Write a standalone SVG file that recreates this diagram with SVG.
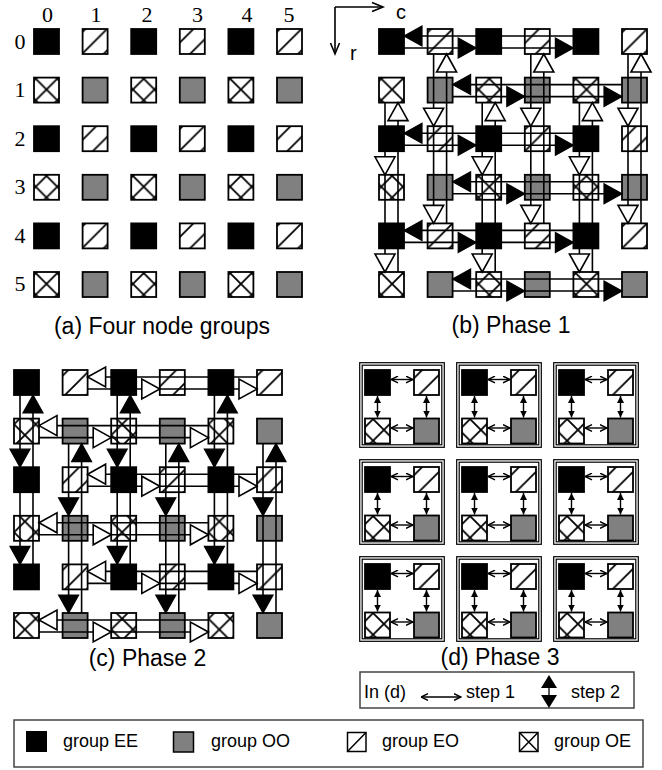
<svg xmlns="http://www.w3.org/2000/svg" width="662" height="770" viewBox="0 0 662 770">
<style>
.n{stroke:#000;stroke-width:1.8}
.ee{fill:#000}
.oo{fill:#808080}
.eo{fill:url(#pEO)}
.oe{fill:url(#pOE)}
.w{fill:none;stroke:#000;stroke-width:1.6}
.tb{fill:#000;stroke:#000;stroke-width:1.2}
.tw{fill:#fff;stroke:#000;stroke-width:1.6}
.fr{fill:none;stroke:#000;stroke-width:1.2}
.s1{fill:none;stroke:#000;stroke-width:1.4}
.s2{fill:none;stroke:#000;stroke-width:1.4}
.cap{font-family:"Liberation Sans",Arial,sans-serif;font-size:23px;text-anchor:middle;fill:#000}
.lab{font-family:"Liberation Serif","Times New Roman",serif;font-size:22px;text-anchor:middle;fill:#000}
.lg{font-family:"Liberation Sans",Arial,sans-serif;font-size:18px;fill:#000}
.ax{font-family:"Liberation Sans",Arial,sans-serif;font-size:20px;fill:#000}
.box{fill:none;stroke:#444;stroke-width:1.5}
</style>
<defs>
<pattern id="pEO" patternUnits="userSpaceOnUse" width="21.6" height="21.6" patternTransform="translate(46.5,89.5)">
<rect width="21.6" height="21.6" fill="#fff"/>
<path d="M-2,2 L2,-2 M0,21.6 L21.6,0 M19.6,23.6 L23.6,19.6" stroke="#000" stroke-width="1.8"/>
</pattern>
<pattern id="pOE" patternUnits="userSpaceOnUse" width="21.6" height="21.6" patternTransform="translate(46.5,89.5)">
<rect width="21.6" height="21.6" fill="#fff"/>
<path d="M-2,2 L2,-2 M0,21.6 L21.6,0 M19.6,23.6 L23.6,19.6 M0,0 L21.6,21.6 M19.6,-2 L23.6,2 M-2,19.6 L2,23.6" stroke="#000" stroke-width="1.8"/>
</pattern>
<marker id="m1" viewBox="0 0 8 8" refX="7.5" refY="4" markerWidth="8" markerHeight="8" orient="auto-start-reverse" markerUnits="userSpaceOnUse">
<path d="M0.5,0.6 L7.5,4 L0.5,7.4" fill="none" stroke="#000" stroke-width="1.4"/>
</marker>
<marker id="m2" viewBox="0 0 7 7" refX="7" refY="3.5" markerWidth="7" markerHeight="7" orient="auto-start-reverse" markerUnits="userSpaceOnUse">
<path d="M0,0 L7,3.5 L0,7 Z" fill="#000"/>
</marker>
</defs>
<rect width="662" height="770" fill="#fff"/>

<!-- Panel (a) labels -->
<g id="a-labels">
<text class="lab" x="47.5" y="21.5">0</text>
<text class="lab" x="96" y="21.5">1</text>
<text class="lab" x="147" y="21.5">2</text>
<text class="lab" x="197.5" y="21.5">3</text>
<text class="lab" x="247" y="21.5">4</text>
<text class="lab" x="289" y="21.5">5</text>
<text class="lab" x="20" y="48.5">0</text>
<text class="lab" x="20" y="97">1</text>
<text class="lab" x="20" y="145.5">2</text>
<text class="lab" x="20" y="194">3</text>
<text class="lab" x="20" y="242.5">4</text>
<text class="lab" x="20" y="291">5</text>
</g>

<!-- Panel (a) nodes -->
<g id="panel-a">
<g id="a-r0c0"><rect class="n ee" x="34" y="29" width="25" height="25"/></g>
<g id="a-r0c1"><rect class="n eo" x="82.6" y="29" width="25" height="25"/></g>
<g id="a-r0c2"><rect class="n ee" x="131.2" y="29" width="25" height="25"/></g>
<g id="a-r0c3"><rect class="n eo" x="179.8" y="29" width="25" height="25"/></g>
<g id="a-r0c4"><rect class="n ee" x="228.4" y="29" width="25" height="25"/></g>
<g id="a-r0c5"><rect class="n eo" x="277" y="29" width="25" height="25"/></g>
<g id="a-r1c0"><rect class="n oe" x="34" y="77.6" width="25" height="25"/></g>
<g id="a-r1c1"><rect class="n oo" x="82.6" y="77.6" width="25" height="25"/></g>
<g id="a-r1c2"><rect class="n oe" x="131.2" y="77.6" width="25" height="25"/></g>
<g id="a-r1c3"><rect class="n oo" x="179.8" y="77.6" width="25" height="25"/></g>
<g id="a-r1c4"><rect class="n oe" x="228.4" y="77.6" width="25" height="25"/></g>
<g id="a-r1c5"><rect class="n oo" x="277" y="77.6" width="25" height="25"/></g>
<g id="a-r2c0"><rect class="n ee" x="34" y="126.2" width="25" height="25"/></g>
<g id="a-r2c1"><rect class="n eo" x="82.6" y="126.2" width="25" height="25"/></g>
<g id="a-r2c2"><rect class="n ee" x="131.2" y="126.2" width="25" height="25"/></g>
<g id="a-r2c3"><rect class="n eo" x="179.8" y="126.2" width="25" height="25"/></g>
<g id="a-r2c4"><rect class="n ee" x="228.4" y="126.2" width="25" height="25"/></g>
<g id="a-r2c5"><rect class="n eo" x="277" y="126.2" width="25" height="25"/></g>
<g id="a-r3c0"><rect class="n oe" x="34" y="174.8" width="25" height="25"/></g>
<g id="a-r3c1"><rect class="n oo" x="82.6" y="174.8" width="25" height="25"/></g>
<g id="a-r3c2"><rect class="n oe" x="131.2" y="174.8" width="25" height="25"/></g>
<g id="a-r3c3"><rect class="n oo" x="179.8" y="174.8" width="25" height="25"/></g>
<g id="a-r3c4"><rect class="n oe" x="228.4" y="174.8" width="25" height="25"/></g>
<g id="a-r3c5"><rect class="n oo" x="277" y="174.8" width="25" height="25"/></g>
<g id="a-r4c0"><rect class="n ee" x="34" y="223.4" width="25" height="25"/></g>
<g id="a-r4c1"><rect class="n eo" x="82.6" y="223.4" width="25" height="25"/></g>
<g id="a-r4c2"><rect class="n ee" x="131.2" y="223.4" width="25" height="25"/></g>
<g id="a-r4c3"><rect class="n eo" x="179.8" y="223.4" width="25" height="25"/></g>
<g id="a-r4c4"><rect class="n ee" x="228.4" y="223.4" width="25" height="25"/></g>
<g id="a-r4c5"><rect class="n eo" x="277" y="223.4" width="25" height="25"/></g>
<g id="a-r5c0"><rect class="n oe" x="34" y="272" width="25" height="25"/></g>
<g id="a-r5c1"><rect class="n oo" x="82.6" y="272" width="25" height="25"/></g>
<g id="a-r5c2"><rect class="n oe" x="131.2" y="272" width="25" height="25"/></g>
<g id="a-r5c3"><rect class="n oo" x="179.8" y="272" width="25" height="25"/></g>
<g id="a-r5c4"><rect class="n oe" x="228.4" y="272" width="25" height="25"/></g>
<g id="a-r5c5"><rect class="n oo" x="277" y="272" width="25" height="25"/></g>
</g>
<text class="cap" x="162" y="334">(a) Four node groups</text>

<!-- Panel (b) axes -->
<g id="b-axes">
<path class="w" d="M335,7 H382 M335,7 V53"/>
<path class="w" d="M372,2.5 L383,7 L372,11.5 M330.5,43 L335,54 L339.5,43"/>
<text class="ax" x="396" y="18.5">c</text>
<text class="ax" x="350" y="60">r</text>
</g>

<!-- Panel (b) nodes -->
<g id="panel-b">
<g id="b-r0c0"><rect class="n ee" x="379" y="29" width="25" height="25"/></g>
<g id="b-r0c1"><rect class="n eo" x="427.6" y="29" width="25" height="25"/></g>
<g id="b-r0c2"><rect class="n ee" x="476.2" y="29" width="25" height="25"/></g>
<g id="b-r0c3"><rect class="n eo" x="524.8" y="29" width="25" height="25"/></g>
<g id="b-r0c4"><rect class="n ee" x="573.4" y="29" width="25" height="25"/></g>
<g id="b-r0c5"><rect class="n eo" x="622" y="29" width="25" height="25"/></g>
<g id="b-r1c0"><rect class="n oe" x="379" y="77.6" width="25" height="25"/></g>
<g id="b-r1c1"><rect class="n oo" x="427.6" y="77.6" width="25" height="25"/></g>
<g id="b-r1c2"><rect class="n oe" x="476.2" y="77.6" width="25" height="25"/></g>
<g id="b-r1c3"><rect class="n oo" x="524.8" y="77.6" width="25" height="25"/></g>
<g id="b-r1c4"><rect class="n oe" x="573.4" y="77.6" width="25" height="25"/></g>
<g id="b-r1c5"><rect class="n oo" x="622" y="77.6" width="25" height="25"/></g>
<g id="b-r2c0"><rect class="n ee" x="379" y="126.2" width="25" height="25"/></g>
<g id="b-r2c1"><rect class="n eo" x="427.6" y="126.2" width="25" height="25"/></g>
<g id="b-r2c2"><rect class="n ee" x="476.2" y="126.2" width="25" height="25"/></g>
<g id="b-r2c3"><rect class="n eo" x="524.8" y="126.2" width="25" height="25"/></g>
<g id="b-r2c4"><rect class="n ee" x="573.4" y="126.2" width="25" height="25"/></g>
<g id="b-r2c5"><rect class="n eo" x="622" y="126.2" width="25" height="25"/></g>
<g id="b-r3c0"><rect class="n oe" x="379" y="174.8" width="25" height="25"/></g>
<g id="b-r3c1"><rect class="n oo" x="427.6" y="174.8" width="25" height="25"/></g>
<g id="b-r3c2"><rect class="n oe" x="476.2" y="174.8" width="25" height="25"/></g>
<g id="b-r3c3"><rect class="n oo" x="524.8" y="174.8" width="25" height="25"/></g>
<g id="b-r3c4"><rect class="n oe" x="573.4" y="174.8" width="25" height="25"/></g>
<g id="b-r3c5"><rect class="n oo" x="622" y="174.8" width="25" height="25"/></g>
<g id="b-r4c0"><rect class="n ee" x="379" y="223.4" width="25" height="25"/></g>
<g id="b-r4c1"><rect class="n eo" x="427.6" y="223.4" width="25" height="25"/></g>
<g id="b-r4c2"><rect class="n ee" x="476.2" y="223.4" width="25" height="25"/></g>
<g id="b-r4c3"><rect class="n eo" x="524.8" y="223.4" width="25" height="25"/></g>
<g id="b-r4c4"><rect class="n ee" x="573.4" y="223.4" width="25" height="25"/></g>
<g id="b-r4c5"><rect class="n eo" x="622" y="223.4" width="25" height="25"/></g>
<g id="b-r5c0"><rect class="n oe" x="379" y="272" width="25" height="25"/></g>
<g id="b-r5c1"><rect class="n oo" x="427.6" y="272" width="25" height="25"/></g>
<g id="b-r5c2"><rect class="n oe" x="476.2" y="272" width="25" height="25"/></g>
<g id="b-r5c3"><rect class="n oo" x="524.8" y="272" width="25" height="25"/></g>
<g id="b-r5c4"><rect class="n oe" x="573.4" y="272" width="25" height="25"/></g>
<g id="b-r5c5"><rect class="n oo" x="622" y="272" width="25" height="25"/></g>
</g>
<text class="cap" x="511" y="333">(b) Phase 1</text>

<!-- Panel (c) nodes -->
<g id="panel-c">
<g id="c-r0c0"><rect class="n ee" x="14" y="370" width="25" height="25"/></g>
<g id="c-r0c1"><rect class="n eo" x="62.6" y="370" width="25" height="25"/></g>
<g id="c-r0c2"><rect class="n ee" x="111.2" y="370" width="25" height="25"/></g>
<g id="c-r0c3"><rect class="n eo" x="159.8" y="370" width="25" height="25"/></g>
<g id="c-r0c4"><rect class="n ee" x="208.4" y="370" width="25" height="25"/></g>
<g id="c-r0c5"><rect class="n eo" x="257" y="370" width="25" height="25"/></g>
<g id="c-r1c0"><rect class="n oe" x="14" y="418.6" width="25" height="25"/></g>
<g id="c-r1c1"><rect class="n oo" x="62.6" y="418.6" width="25" height="25"/></g>
<g id="c-r1c2"><rect class="n oe" x="111.2" y="418.6" width="25" height="25"/></g>
<g id="c-r1c3"><rect class="n oo" x="159.8" y="418.6" width="25" height="25"/></g>
<g id="c-r1c4"><rect class="n oe" x="208.4" y="418.6" width="25" height="25"/></g>
<g id="c-r1c5"><rect class="n oo" x="257" y="418.6" width="25" height="25"/></g>
<g id="c-r2c0"><rect class="n ee" x="14" y="467.2" width="25" height="25"/></g>
<g id="c-r2c1"><rect class="n eo" x="62.6" y="467.2" width="25" height="25"/></g>
<g id="c-r2c2"><rect class="n ee" x="111.2" y="467.2" width="25" height="25"/></g>
<g id="c-r2c3"><rect class="n eo" x="159.8" y="467.2" width="25" height="25"/></g>
<g id="c-r2c4"><rect class="n ee" x="208.4" y="467.2" width="25" height="25"/></g>
<g id="c-r2c5"><rect class="n eo" x="257" y="467.2" width="25" height="25"/></g>
<g id="c-r3c0"><rect class="n oe" x="14" y="515.8" width="25" height="25"/></g>
<g id="c-r3c1"><rect class="n oo" x="62.6" y="515.8" width="25" height="25"/></g>
<g id="c-r3c2"><rect class="n oe" x="111.2" y="515.8" width="25" height="25"/></g>
<g id="c-r3c3"><rect class="n oo" x="159.8" y="515.8" width="25" height="25"/></g>
<g id="c-r3c4"><rect class="n oe" x="208.4" y="515.8" width="25" height="25"/></g>
<g id="c-r3c5"><rect class="n oo" x="257" y="515.8" width="25" height="25"/></g>
<g id="c-r4c0"><rect class="n ee" x="14" y="564.4" width="25" height="25"/></g>
<g id="c-r4c1"><rect class="n eo" x="62.6" y="564.4" width="25" height="25"/></g>
<g id="c-r4c2"><rect class="n ee" x="111.2" y="564.4" width="25" height="25"/></g>
<g id="c-r4c3"><rect class="n eo" x="159.8" y="564.4" width="25" height="25"/></g>
<g id="c-r4c4"><rect class="n ee" x="208.4" y="564.4" width="25" height="25"/></g>
<g id="c-r4c5"><rect class="n eo" x="257" y="564.4" width="25" height="25"/></g>
<g id="c-r5c0"><rect class="n oe" x="14" y="613" width="25" height="25"/></g>
<g id="c-r5c1"><rect class="n oo" x="62.6" y="613" width="25" height="25"/></g>
<g id="c-r5c2"><rect class="n oe" x="111.2" y="613" width="25" height="25"/></g>
<g id="c-r5c3"><rect class="n oo" x="159.8" y="613" width="25" height="25"/></g>
<g id="c-r5c4"><rect class="n oe" x="208.4" y="613" width="25" height="25"/></g>
<g id="c-r5c5"><rect class="n oo" x="257" y="613" width="25" height="25"/></g>
</g>
<text class="cap" x="147.5" y="666">(c) Phase 2</text>

<!-- Panel (d) frames and nodes -->
<g id="panel-d">
<g id="d-f00" transform="translate(359,362)"><rect class="fr" x="0.7" y="0.7" width="84.6" height="84.6"/><rect class="fr" x="3.2" y="3.2" width="79.6" height="79.6"/>
<g id="d-f00-ee"><rect class="n ee" x="6" y="8" width="25" height="25"/></g><g id="d-f00-eo"><rect class="n eo" x="55" y="8" width="25" height="25"/></g><g id="d-f00-oe"><rect class="n oe" x="6" y="56.5" width="25" height="25"/></g><g id="d-f00-oo"><rect class="n oo" x="55" y="56.5" width="25" height="25"/></g></g>
<g id="d-f01" transform="translate(456,362)"><rect class="fr" x="0.7" y="0.7" width="84.6" height="84.6"/><rect class="fr" x="3.2" y="3.2" width="79.6" height="79.6"/>
<g id="d-f01-ee"><rect class="n ee" x="6" y="8" width="25" height="25"/></g><g id="d-f01-eo"><rect class="n eo" x="55" y="8" width="25" height="25"/></g><g id="d-f01-oe"><rect class="n oe" x="6" y="56.5" width="25" height="25"/></g><g id="d-f01-oo"><rect class="n oo" x="55" y="56.5" width="25" height="25"/></g></g>
<g id="d-f02" transform="translate(553,362)"><rect class="fr" x="0.7" y="0.7" width="84.6" height="84.6"/><rect class="fr" x="3.2" y="3.2" width="79.6" height="79.6"/>
<g id="d-f02-ee"><rect class="n ee" x="6" y="8" width="25" height="25"/></g><g id="d-f02-eo"><rect class="n eo" x="55" y="8" width="25" height="25"/></g><g id="d-f02-oe"><rect class="n oe" x="6" y="56.5" width="25" height="25"/></g><g id="d-f02-oo"><rect class="n oo" x="55" y="56.5" width="25" height="25"/></g></g>
<g id="d-f10" transform="translate(359,459)"><rect class="fr" x="0.7" y="0.7" width="84.6" height="84.6"/><rect class="fr" x="3.2" y="3.2" width="79.6" height="79.6"/>
<g id="d-f10-ee"><rect class="n ee" x="6" y="8" width="25" height="25"/></g><g id="d-f10-eo"><rect class="n eo" x="55" y="8" width="25" height="25"/></g><g id="d-f10-oe"><rect class="n oe" x="6" y="56.5" width="25" height="25"/></g><g id="d-f10-oo"><rect class="n oo" x="55" y="56.5" width="25" height="25"/></g></g>
<g id="d-f11" transform="translate(456,459)"><rect class="fr" x="0.7" y="0.7" width="84.6" height="84.6"/><rect class="fr" x="3.2" y="3.2" width="79.6" height="79.6"/>
<g id="d-f11-ee"><rect class="n ee" x="6" y="8" width="25" height="25"/></g><g id="d-f11-eo"><rect class="n eo" x="55" y="8" width="25" height="25"/></g><g id="d-f11-oe"><rect class="n oe" x="6" y="56.5" width="25" height="25"/></g><g id="d-f11-oo"><rect class="n oo" x="55" y="56.5" width="25" height="25"/></g></g>
<g id="d-f12" transform="translate(553,459)"><rect class="fr" x="0.7" y="0.7" width="84.6" height="84.6"/><rect class="fr" x="3.2" y="3.2" width="79.6" height="79.6"/>
<g id="d-f12-ee"><rect class="n ee" x="6" y="8" width="25" height="25"/></g><g id="d-f12-eo"><rect class="n eo" x="55" y="8" width="25" height="25"/></g><g id="d-f12-oe"><rect class="n oe" x="6" y="56.5" width="25" height="25"/></g><g id="d-f12-oo"><rect class="n oo" x="55" y="56.5" width="25" height="25"/></g></g>
<g id="d-f20" transform="translate(359,556)"><rect class="fr" x="0.7" y="0.7" width="84.6" height="84.6"/><rect class="fr" x="3.2" y="3.2" width="79.6" height="79.6"/>
<g id="d-f20-ee"><rect class="n ee" x="6" y="8" width="25" height="25"/></g><g id="d-f20-eo"><rect class="n eo" x="55" y="8" width="25" height="25"/></g><g id="d-f20-oe"><rect class="n oe" x="6" y="56.5" width="25" height="25"/></g><g id="d-f20-oo"><rect class="n oo" x="55" y="56.5" width="25" height="25"/></g></g>
<g id="d-f21" transform="translate(456,556)"><rect class="fr" x="0.7" y="0.7" width="84.6" height="84.6"/><rect class="fr" x="3.2" y="3.2" width="79.6" height="79.6"/>
<g id="d-f21-ee"><rect class="n ee" x="6" y="8" width="25" height="25"/></g><g id="d-f21-eo"><rect class="n eo" x="55" y="8" width="25" height="25"/></g><g id="d-f21-oe"><rect class="n oe" x="6" y="56.5" width="25" height="25"/></g><g id="d-f21-oo"><rect class="n oo" x="55" y="56.5" width="25" height="25"/></g></g>
<g id="d-f22" transform="translate(553,556)"><rect class="fr" x="0.7" y="0.7" width="84.6" height="84.6"/><rect class="fr" x="3.2" y="3.2" width="79.6" height="79.6"/>
<g id="d-f22-ee"><rect class="n ee" x="6" y="8" width="25" height="25"/></g><g id="d-f22-eo"><rect class="n eo" x="55" y="8" width="25" height="25"/></g><g id="d-f22-oe"><rect class="n oe" x="6" y="56.5" width="25" height="25"/></g><g id="d-f22-oo"><rect class="n oo" x="55" y="56.5" width="25" height="25"/></g></g>
</g>
<text class="cap" x="500" y="665">(d) Phase 3</text>

<!-- Connectors -->
<g id="connectors">
<!-- (b) wires -->
<path class="w" d="M404,36 H573.4 M404,48 H573.4 M404,133.2 H573.4 M404,145.2 H573.4 M404,230.4 H573.4 M404,242.4 H573.4"/>
<path class="w" d="M452.6,84.6 H622 M452.6,96.6 H622 M452.6,181.8 H622 M452.6,193.8 H622 M452.6,279 H622 M452.6,291 H622"/>
<path class="w" d="M385,102.6 V272 M398,102.6 V272 M482.2,102.6 V272 M495.2,102.6 V272 M579.4,102.6 V272 M592.4,102.6 V272"/>
<path class="w" d="M433.6,54 V223.4 M446.6,54 V223.4 M530.8,54 V223.4 M543.8,54 V223.4 M628,54 V223.4 M641,54 V223.4"/>
<!-- (b) black horizontal arrowheads -->
<polygon class="tb" points="404,36 422,26 422,46"/>
<polygon class="tb" points="476.2,48 458.2,38 458.2,58"/>
<polygon class="tb" points="573.4,48 555.4,38 555.4,58"/>
<polygon class="tb" points="404,133.2 422,123.2 422,143.2"/>
<polygon class="tb" points="476.2,145.2 458.2,135.2 458.2,155.2"/>
<polygon class="tb" points="573.4,145.2 555.4,135.2 555.4,155.2"/>
<polygon class="tb" points="404,230.4 422,220.4 422,240.4"/>
<polygon class="tb" points="476.2,242.4 458.2,232.4 458.2,252.4"/>
<polygon class="tb" points="573.4,242.4 555.4,232.4 555.4,252.4"/>
<polygon class="tb" points="452.6,84.6 470.6,74.6 470.6,94.6"/>
<polygon class="tb" points="524.8,96.6 506.8,86.6 506.8,106.6"/>
<polygon class="tb" points="622,96.6 604,86.6 604,106.6"/>
<polygon class="tb" points="452.6,181.8 470.6,171.8 470.6,191.8"/>
<polygon class="tb" points="524.8,193.8 506.8,183.8 506.8,203.8"/>
<polygon class="tb" points="622,193.8 604,183.8 604,203.8"/>
<polygon class="tb" points="452.6,279 470.6,269 470.6,289"/>
<polygon class="tb" points="524.8,291 506.8,281 506.8,301"/>
<polygon class="tb" points="622,291 604,281 604,301"/>
<!-- (b) white vertical arrowheads -->
<polygon class="tw" points="398,102.6 388,120.6 408,120.6"/>
<polygon class="tw" points="385,174.8 375,156.8 395,156.8"/>
<polygon class="tw" points="385,272 375,254 395,254"/>
<polygon class="tw" points="495.2,102.6 485.2,120.6 505.2,120.6"/>
<polygon class="tw" points="482.2,174.8 472.2,156.8 492.2,156.8"/>
<polygon class="tw" points="482.2,272 472.2,254 492.2,254"/>
<polygon class="tw" points="592.4,102.6 582.4,120.6 602.4,120.6"/>
<polygon class="tw" points="579.4,174.8 569.4,156.8 589.4,156.8"/>
<polygon class="tw" points="579.4,272 569.4,254 589.4,254"/>
<polygon class="tw" points="446.6,54 436.6,72 456.6,72"/>
<polygon class="tw" points="433.6,126.2 423.6,108.2 443.6,108.2"/>
<polygon class="tw" points="433.6,223.4 423.6,205.4 443.6,205.4"/>
<polygon class="tw" points="543.8,54 533.8,72 553.8,72"/>
<polygon class="tw" points="530.8,126.2 520.8,108.2 540.8,108.2"/>
<polygon class="tw" points="530.8,223.4 520.8,205.4 540.8,205.4"/>
<polygon class="tw" points="641,54 631,72 651,72"/>
<polygon class="tw" points="628,126.2 618,108.2 638,108.2"/>
<polygon class="tw" points="628,223.4 618,205.4 638,205.4"/>

<!-- (c) wires -->
<path class="w" d="M87.6,377 H257 M87.6,389 H257 M87.6,474.2 H257 M87.6,486.2 H257 M87.6,571.4 H257 M87.6,583.4 H257"/>
<path class="w" d="M39,425.6 H208.4 M39,437.6 H208.4 M39,522.8 H208.4 M39,534.8 H208.4 M39,620 H208.4 M39,632 H208.4"/>
<path class="w" d="M20,395 V564.4 M33,395 V564.4 M117.2,395 V564.4 M130.2,395 V564.4 M214.4,395 V564.4 M227.4,395 V564.4"/>
<path class="w" d="M68.6,443.6 V613 M81.6,443.6 V613 M165.8,443.6 V613 M178.8,443.6 V613 M263,443.6 V613 M276,443.6 V613"/>
<!-- (c) white horizontal arrowheads -->
<polygon class="tw" points="87.6,377 105.6,367 105.6,387"/>
<polygon class="tw" points="159.8,389 141.8,379 141.8,399"/>
<polygon class="tw" points="257,389 239,379 239,399"/>
<polygon class="tw" points="87.6,474.2 105.6,464.2 105.6,484.2"/>
<polygon class="tw" points="159.8,486.2 141.8,476.2 141.8,496.2"/>
<polygon class="tw" points="257,486.2 239,476.2 239,496.2"/>
<polygon class="tw" points="87.6,571.4 105.6,561.4 105.6,581.4"/>
<polygon class="tw" points="159.8,583.4 141.8,573.4 141.8,593.4"/>
<polygon class="tw" points="257,583.4 239,573.4 239,593.4"/>
<polygon class="tw" points="39,425.6 57,415.6 57,435.6"/>
<polygon class="tw" points="111.2,437.6 93.2,427.6 93.2,447.6"/>
<polygon class="tw" points="208.4,437.6 190.4,427.6 190.4,447.6"/>
<polygon class="tw" points="39,522.8 57,512.8 57,532.8"/>
<polygon class="tw" points="111.2,534.8 93.2,524.8 93.2,544.8"/>
<polygon class="tw" points="208.4,534.8 190.4,524.8 190.4,544.8"/>
<polygon class="tw" points="39,620 57,610 57,630"/>
<polygon class="tw" points="111.2,632 93.2,622 93.2,642"/>
<polygon class="tw" points="208.4,632 190.4,622 190.4,642"/>
<!-- (c) black vertical arrowheads -->
<polygon class="tb" points="33,395 23,413 43,413"/>
<polygon class="tb" points="20,467.2 10,449.2 30,449.2"/>
<polygon class="tb" points="20,564.4 10,546.4 30,546.4"/>
<polygon class="tb" points="130.2,395 120.2,413 140.2,413"/>
<polygon class="tb" points="117.2,467.2 107.2,449.2 127.2,449.2"/>
<polygon class="tb" points="117.2,564.4 107.2,546.4 127.2,546.4"/>
<polygon class="tb" points="227.4,395 217.4,413 237.4,413"/>
<polygon class="tb" points="214.4,467.2 204.4,449.2 224.4,449.2"/>
<polygon class="tb" points="214.4,564.4 204.4,546.4 224.4,546.4"/>
<polygon class="tb" points="81.6,443.6 71.6,461.6 91.6,461.6"/>
<polygon class="tb" points="68.6,515.8 58.6,497.8 78.6,497.8"/>
<polygon class="tb" points="68.6,613 58.6,595 78.6,595"/>
<polygon class="tb" points="178.8,443.6 168.8,461.6 188.8,461.6"/>
<polygon class="tb" points="165.8,515.8 155.8,497.8 175.8,497.8"/>
<polygon class="tb" points="165.8,613 155.8,595 175.8,595"/>
<polygon class="tb" points="276,443.6 266,461.6 286,461.6"/>
<polygon class="tb" points="263,515.8 253,497.8 273,497.8"/>
<polygon class="tb" points="263,613 253,595 273,595"/>

<!-- (d) step arrows -->
<g transform="translate(359,362)"><path class="s1" d="M32,17.5 H54" marker-start="url(#m1)" marker-end="url(#m1)"/><path class="s1" d="M32,66 H54" marker-start="url(#m1)" marker-end="url(#m1)"/><path class="s2" d="M18.5,34 V55.5" marker-start="url(#m2)" marker-end="url(#m2)"/><path class="s2" d="M67.5,34 V55.5" marker-start="url(#m2)" marker-end="url(#m2)"/></g>
<g transform="translate(456,362)"><path class="s1" d="M32,17.5 H54" marker-start="url(#m1)" marker-end="url(#m1)"/><path class="s1" d="M32,66 H54" marker-start="url(#m1)" marker-end="url(#m1)"/><path class="s2" d="M18.5,34 V55.5" marker-start="url(#m2)" marker-end="url(#m2)"/><path class="s2" d="M67.5,34 V55.5" marker-start="url(#m2)" marker-end="url(#m2)"/></g>
<g transform="translate(553,362)"><path class="s1" d="M32,17.5 H54" marker-start="url(#m1)" marker-end="url(#m1)"/><path class="s1" d="M32,66 H54" marker-start="url(#m1)" marker-end="url(#m1)"/><path class="s2" d="M18.5,34 V55.5" marker-start="url(#m2)" marker-end="url(#m2)"/><path class="s2" d="M67.5,34 V55.5" marker-start="url(#m2)" marker-end="url(#m2)"/></g>
<g transform="translate(359,459)"><path class="s1" d="M32,17.5 H54" marker-start="url(#m1)" marker-end="url(#m1)"/><path class="s1" d="M32,66 H54" marker-start="url(#m1)" marker-end="url(#m1)"/><path class="s2" d="M18.5,34 V55.5" marker-start="url(#m2)" marker-end="url(#m2)"/><path class="s2" d="M67.5,34 V55.5" marker-start="url(#m2)" marker-end="url(#m2)"/></g>
<g transform="translate(456,459)"><path class="s1" d="M32,17.5 H54" marker-start="url(#m1)" marker-end="url(#m1)"/><path class="s1" d="M32,66 H54" marker-start="url(#m1)" marker-end="url(#m1)"/><path class="s2" d="M18.5,34 V55.5" marker-start="url(#m2)" marker-end="url(#m2)"/><path class="s2" d="M67.5,34 V55.5" marker-start="url(#m2)" marker-end="url(#m2)"/></g>
<g transform="translate(553,459)"><path class="s1" d="M32,17.5 H54" marker-start="url(#m1)" marker-end="url(#m1)"/><path class="s1" d="M32,66 H54" marker-start="url(#m1)" marker-end="url(#m1)"/><path class="s2" d="M18.5,34 V55.5" marker-start="url(#m2)" marker-end="url(#m2)"/><path class="s2" d="M67.5,34 V55.5" marker-start="url(#m2)" marker-end="url(#m2)"/></g>
<g transform="translate(359,556)"><path class="s1" d="M32,17.5 H54" marker-start="url(#m1)" marker-end="url(#m1)"/><path class="s1" d="M32,66 H54" marker-start="url(#m1)" marker-end="url(#m1)"/><path class="s2" d="M18.5,34 V55.5" marker-start="url(#m2)" marker-end="url(#m2)"/><path class="s2" d="M67.5,34 V55.5" marker-start="url(#m2)" marker-end="url(#m2)"/></g>
<g transform="translate(456,556)"><path class="s1" d="M32,17.5 H54" marker-start="url(#m1)" marker-end="url(#m1)"/><path class="s1" d="M32,66 H54" marker-start="url(#m1)" marker-end="url(#m1)"/><path class="s2" d="M18.5,34 V55.5" marker-start="url(#m2)" marker-end="url(#m2)"/><path class="s2" d="M67.5,34 V55.5" marker-start="url(#m2)" marker-end="url(#m2)"/></g>
<g transform="translate(553,556)"><path class="s1" d="M32,17.5 H54" marker-start="url(#m1)" marker-end="url(#m1)"/><path class="s1" d="M32,66 H54" marker-start="url(#m1)" marker-end="url(#m1)"/><path class="s2" d="M18.5,34 V55.5" marker-start="url(#m2)" marker-end="url(#m2)"/><path class="s2" d="M67.5,34 V55.5" marker-start="url(#m2)" marker-end="url(#m2)"/></g>
</g>

<!-- Step legend -->
<g id="step-legend">
<rect class="box" x="360" y="672" width="274" height="36"/>
<text class="lg" x="364" y="698">In (d)</text>
<path class="s1" d="M421,697 H461" marker-start="url(#m1)" marker-end="url(#m1)"/>
<text class="lg" x="466" y="698">step 1</text>
<polygon points="549,675 557,688 541,688" fill="#000"/>
<polygon points="549,708 557,695 541,695" fill="#000"/>
<path d="M549,688 V695" stroke="#000" stroke-width="1.3"/>
<text class="lg" x="571" y="698">step 2</text>
</g>

<!-- Group legend -->
<g id="group-legend">
<rect class="box" x="14" y="720" width="629" height="47"/>
<rect x="26" y="731" width="21" height="21" fill="#000"/>
<text class="lg" x="63" y="747">group EE</text>
<rect x="173.5" y="732" width="20" height="20" fill="#808080" stroke="#000" stroke-width="1.5"/>
<text class="lg" x="211" y="747">group OO</text>
<rect x="347.5" y="732.5" width="18.5" height="19" fill="#fff" stroke="#000" stroke-width="1.5"/>
<path d="M347.5,751.5 L366,732.5" stroke="#000" stroke-width="1.5"/>
<text class="lg" x="382" y="747">group EO</text>
<rect x="519.5" y="732.5" width="18.5" height="19" fill="#fff" stroke="#000" stroke-width="1.5"/>
<path d="M519.5,732.5 L538,751.5 M538,732.5 L519.5,751.5" stroke="#000" stroke-width="1.5"/>
<text class="lg" x="554" y="747">group OE</text>
</g>
</svg>
